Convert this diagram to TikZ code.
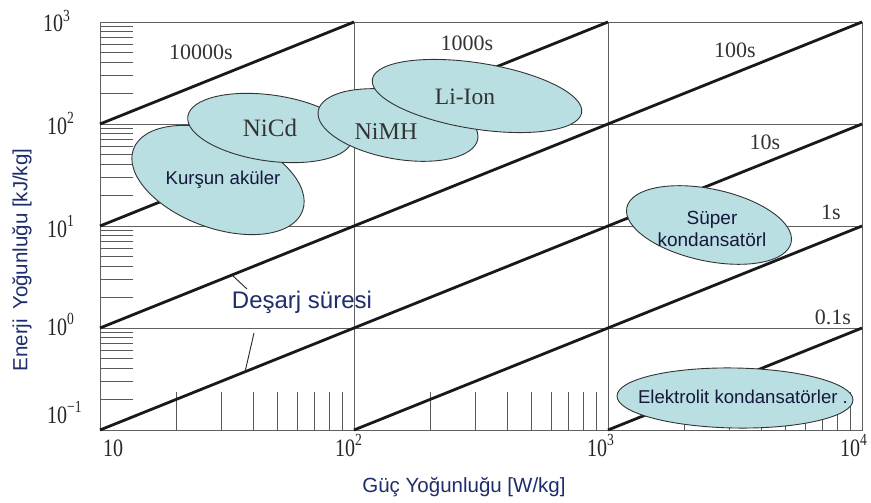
\documentclass[tikz,border=0pt]{standalone}
\usepackage{fontspec}
\setmainfont{Liberation Serif}
\setsansfont{Liberation Sans}
\newfontfamily\tickfont[FakeStretch=0.8]{Liberation Serif}
\definecolor{ellfill}{HTML}{B9DFE3}
\definecolor{navy}{HTML}{1E2D6B}
\definecolor{txtgray}{HTML}{333333}
\definecolor{txtdark}{HTML}{15183A}
\newcommand\tenpow[1]{{\tickfont\fontsize{25}{28}\selectfont 10\raisebox{0.42em}{\fontsize{17}{20}\selectfont #1}}}
\begin{document}
\begin{tikzpicture}[x=1pt,y=-1pt,
  gridln/.style={draw=gray!75!black, line width=0.9pt},
  minorln/.style={draw=gray!70!black, line width=0.8pt},
  tline/.style={draw=black!90, line width=2.8pt},
  ell/.style={draw=black!80, fill=ellfill, line width=0.9pt},
  leader/.style={draw=black!85, line width=0.9pt},
  serlab/.style={font=\fontsize{22}{26}\selectfont, text=txtgray, inner sep=0pt},
  batlab/.style={font=\fontsize{24}{28}\selectfont, text=txtgray, inner sep=0pt},
  sanslab/.style={font=\sffamily\fontsize{18.6}{22}\selectfont, text=txtdark, inner sep=0pt, align=center},
  ticklab/.style={anchor=base west, inner sep=0pt, text=black!85},
  axtitle/.style={font=\sffamily\fontsize{20.5}{24}\selectfont, text=navy, inner sep=0pt}
]
\useasboundingbox (0,0) rectangle (871,503);
\fill[white] (0,0) rectangle (871,503);
% frame and grid
\draw[gridln] (100,22) rectangle (862,430);
\foreach \yy in {124,226,328} \draw[gridln] (100,\yy) -- (862,\yy);
\foreach \xx in {354,608} \draw[gridln] (\xx,22) -- (\xx,430);
% minor ticks, left
\foreach \d in {-1,0,1,2} {
  \foreach \k in {2,...,9} {
    \draw[minorln] (100,{430-(\d+1+log10(\k))*102}) -- ++(33,0);
  }
}
% minor ticks, bottom
\foreach \d in {1,2,3} {
  \foreach \k in {2,...,9} {
    \draw[minorln] ({100+(\d-1+log10(\k))*254},430) -- ++(0,-38);
  }
}
% discharge time lines
\draw[tline] (100,124) -- (354,22);
\draw[tline] (100,226) -- (608,22);
\draw[tline] (100,328) -- (862,22);
\draw[tline] (100,430) -- (862,124);
\draw[tline] (354,430) -- (862,226);
\draw[tline] (608,430) -- (862,328);
% time labels
\node[serlab] (t10000) at (201,52) {10000s};
\node[serlab] (t1000) at (467,43) {1000s};
\node[serlab] (t100) at (735,50) {100s};
\node[serlab] (t10) at (765,142) {10s};
\node[serlab] (t1) at (831,212) {1s};
\node[serlab] (t01) at (833,317) {0.1s};
% ellipses
\draw[ell, rotate around={-20:(218,180)}] (218,180) ellipse [x radius=90, y radius=48];
\draw[ell, rotate around={-8:(270,128)}] (270,128) ellipse [x radius=83, y radius=33];
\draw[ell, rotate around={-10:(398,125)}] (398,125) ellipse [x radius=81, y radius=34];
\draw[ell, rotate around={-9:(477,96)}] (477,96) ellipse [x radius=106, y radius=33];
\draw[ell, rotate around={-12:(709,225)}] (709,225) ellipse [x radius=84, y radius=36];
\draw[ell, rotate around={-1:(735,398)}] (735,398) ellipse [x radius=118, y radius=30];
% ellipse labels
\node[sanslab] (kursun) at (223,180) {Kurşun aküler};
\node[batlab, font=\fontsize{25}{28}\selectfont] (nicd) at (270,128) {NiCd};
\node[batlab] (nimh) at (386,132) {NiMH};
\node[batlab, font=\fontsize{23.5}{28}\selectfont] (liion) at (465,97) {Li-Ion};
\node[sanslab, font=\sffamily\fontsize{19}{22}\selectfont] (super) at (712,229) {Süper\\kondansatörl};
\node[sanslab] (elektro) at (743,397) {Elektrolit kondansatörler .};
% discharge label and leaders
\node[font=\sffamily\fontsize{24}{28}\selectfont, text=navy, inner sep=0pt] (desarj) at (302,302) {Deşarj süresi};
\coordinate (d1) at (247,289);
\coordinate (l1) at (232,275);
\coordinate (d2) at (254,333);
\coordinate (l2) at (245,372);
\draw[leader] (d1) -- (l1);
\draw[leader] (d2) -- (l2);
% y tick labels
\node[ticklab] (y3) at (43,32) {\tenpow{3}};
\node[ticklab] (y2) at (47,134) {\tenpow{2}};
\node[ticklab] (y1) at (47,237) {\tenpow{1}};
\node[ticklab] (y0) at (47,335) {\tenpow{0}};
\node[ticklab] (ym1) at (47,423) {\tenpow{−1}};
% x tick labels
\node[ticklab] (x1) at (103,456) {{\tickfont\fontsize{25}{28}\selectfont 10}};
\node[ticklab] (x2) at (335,456) {\tenpow{2}};
\node[ticklab] (x3) at (587,456) {\tenpow{3}};
\node[ticklab] (x4) at (840,456) {\tenpow{4}};
% axis titles
\node[axtitle] (xtitle) at (464,487) {Güç Yoğunluğu [W/kg]};
\node[axtitle, rotate=90] (ytitle) at (22,260) {Enerji\hspace{0.45em}Yoğunluğu [kJ/kg]};
\end{tikzpicture}
\end{document}
